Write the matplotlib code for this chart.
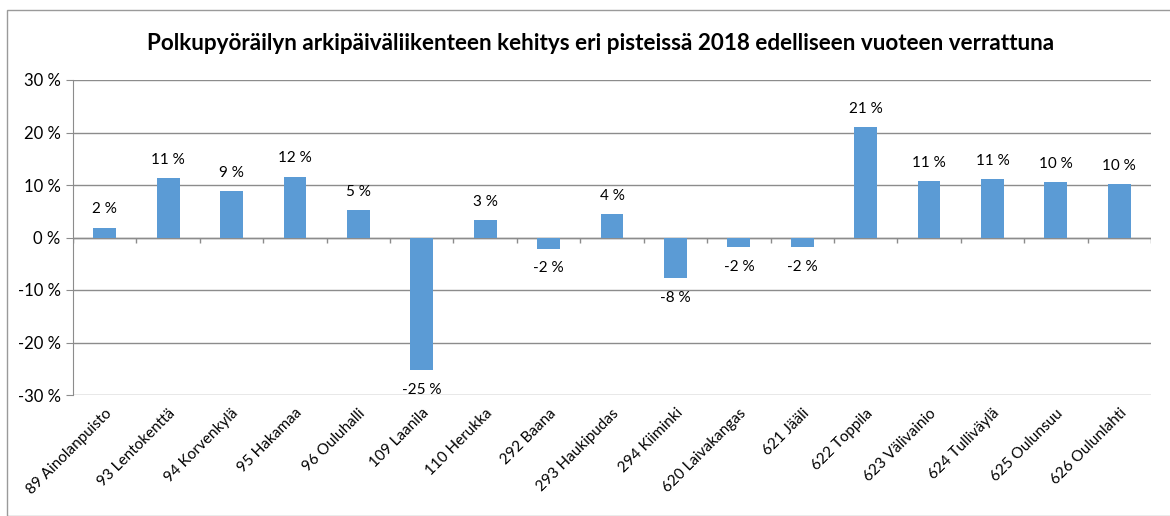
import numpy as np
import matplotlib
matplotlib.use("Agg")
import matplotlib.pyplot as plt
import matplotlib.transforms as mtransforms
from matplotlib.patches import Rectangle

plt.rcParams['font.family'] = ['Lato', 'DejaVu Sans']

points = ['89 Ainolanpuisto', '93 Lentokenttä', '94 Korvenkylä', '95 Hakamaa',
          '96 Ouluhalli', '109 Laanila', '110 Herukka', '292 Baana',
          '293 Haukipudas', '294 Kiiminki', '620 Laivakangas', '621 Jääli',
          '622 Toppila', '623 Välivainio', '624 Tulliväylä', '625 Oulunsuu',
          '626 Oulunlahti']
change = [1.9, 11.4, 8.8, 11.6, 5.3, -25.3, 3.3, -2.1, 4.4, -7.8,
          -1.9, -1.9, 21.0, 10.7, 11.2, 10.5, 10.1]
yticks = [-30, -20, -10, 0, 10, 20, 30]

title = 'Polkupyöräilyn arkipäiväliikenteen kehitys eri pisteissä 2018 edelliseen vuoteen verrattuna'

grid_c = '#8c8c8c'
bar_c = '#5b9bd5'

fig = plt.figure(figsize=(11.7, 5.16), dpi=100)
ax = fig.add_axes([73/1170, 1 - 395/516, (1151-73)/1170, (395-80)/516])

x = np.arange(len(points))
ax.bar(x, change, width=0.36, color=bar_c, zorder=3)

for xi, v in zip(x, change):
    if v >= 0:
        ax.annotate(f'{round(v):d} %', (xi, v), xytext=(0, 8), textcoords='offset points',
                    ha='center', va='bottom', fontsize=11)
    else:
        ax.annotate(f'{round(v):d} %', (xi, v), xytext=(0, -9), textcoords='offset points',
                    ha='center', va='top', fontsize=11)

ax.set_xlim(-0.5, len(points) - 0.5)
ax.set_ylim(-30, 30)
ax.set_yticks(yticks)
ax.set_yticklabels([f'{t} %' for t in yticks], fontsize=12)
ax.yaxis.grid(True, color=grid_c, linewidth=1, zorder=0)
ax.tick_params(axis='y', length=5, color=grid_c, pad=4)

ax.set_xticks(x)
ax.set_xticklabels(points, rotation=45, ha='right', rotation_mode='anchor', fontsize=11)
ax.tick_params(axis='x', length=0, pad=8)

for s in ['top', 'right', 'bottom']:
    ax.spines[s].set_visible(False)
ax.spines['left'].set_color(grid_c)

# category ticks on the zero line
ax.axhline(0, color=grid_c, linewidth=1, zorder=2)
trans = mtransforms.blended_transform_factory(ax.transData, ax.transAxes)
ax.vlines(np.arange(len(points) + 1) - 0.5, 0.5 - 0.017, 0.5, transform=trans,
          color=grid_c, linewidth=1, zorder=2)

fig.text(601/1170, 1 - 44/516, title, ha='center', va='center', fontsize=16.2, fontweight='bold')

fig.patches.append(Rectangle((7/1170, 0), 1.2, 1 - 10/516, transform=fig.transFigure,
                             fill=False, edgecolor='#9a9a9a', linewidth=1))

fig.savefig('out.png', dpi=100)
